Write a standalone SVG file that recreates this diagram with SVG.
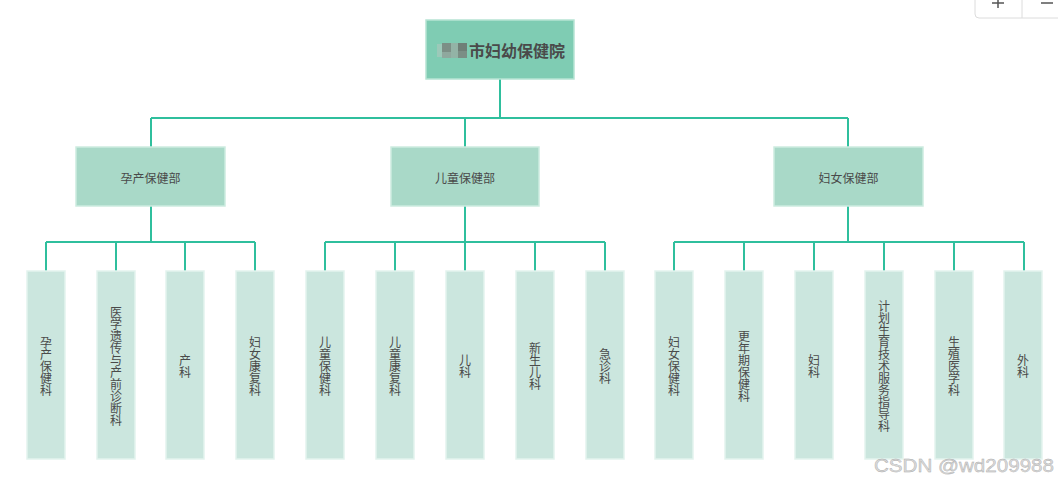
<svg xmlns="http://www.w3.org/2000/svg" width="1058" height="482" viewBox="0 0 1058 482">
<style>
.top{fill:#7fccb3;stroke:#b7e4d4;stroke-width:1.5}
.mid{fill:#a9d9c8;stroke:#cdebe0;stroke-width:1.5}
.leaf{fill:#cbe6de;stroke:#e3f3ee;stroke-width:1.5}
.t{font-family:"Noto Sans CJK SC","Liberation Sans",sans-serif;fill:#4a4a4a;text-anchor:middle}
.v{font-family:"Noto Sans CJK SC","Liberation Sans",sans-serif;fill:#4a4a4a;font-size:12px;writing-mode:vertical-rl;text-anchor:middle}
.c{fill:none;stroke:#2fbf9d;stroke-width:2}
</style>
<rect width="1058" height="482" fill="#ffffff"/>
<g id="zoom-controls">
<rect x="975" y="-6" width="100" height="24" rx="4" fill="#fff" stroke="#dcdcdc"/>
<line x1="1022" y1="-6" x2="1022" y2="18" stroke="#dcdcdc"/>
<line x1="992" y1="3" x2="1004" y2="3" stroke="#555" stroke-width="1.5"/>
<line x1="998" y1="-3" x2="998" y2="8" stroke="#555" stroke-width="1.5"/>
<line x1="1041" y1="3" x2="1053" y2="3" stroke="#555" stroke-width="1.5"/>
</g>
<g id="connectors">
<path class="c" d="M500 79V118M151 118H848M151 118V147M465 118V147M848 118V147"/>
<path class="c" d="M151 206V242M46 242H255M46 242V271M116 242V271M185 242V271M255 242V271"/>
<path class="c" d="M465 206V242M325 242H605M325 242V271M395 242V271M465 242V271M535 242V271M605 242V271"/>
<path class="c" d="M848 206V242M674 242H1024M674 242V271M744 242V271M814 242V271M884 242V271M954 242V271M1024 242V271"/>
</g>
<g id="root">
<rect class="top" x="426" y="20" width="148" height="59"/>
<rect x="437" y="44" width="5" height="13" fill="#9cc9b9"/>
<rect x="442" y="43" width="9" height="9" fill="#7c8f86"/>
<rect x="442" y="52" width="9" height="6" fill="#8fa89e"/>
<rect x="451" y="43" width="7" height="15" fill="#93b3a6"/>
<rect x="458" y="43" width="9" height="8" fill="#6f7f77"/>
<rect x="458" y="51" width="9" height="7" fill="#7b8e85"/>
<text class="t" x="517" y="57" font-size="16" font-weight="bold" fill="#555">市妇幼保健院</text>
</g>
<g id="dept1"><rect class="mid" x="76" y="147" width="149" height="59"/><text class="t" x="150.5" y="183" font-size="12">孕产保健部</text></g>
<g id="dept2"><rect class="mid" x="391" y="147" width="148" height="59"/><text class="t" x="465" y="183" font-size="12">儿童保健部</text></g>
<g id="dept3"><rect class="mid" x="774" y="147" width="149" height="59"/><text class="t" x="848.5" y="183" font-size="12">妇女保健部</text></g>
<g id="leaf1"><rect class="leaf" x="27" y="271" width="38" height="188"/><text class="v" x="46" y="366">孕产保健科</text></g>
<g id="leaf2"><rect class="leaf" x="97" y="271" width="38" height="188"/><text class="v" x="116" y="366">医学遗传与产前诊断科</text></g>
<g id="leaf3"><rect class="leaf" x="166" y="271" width="38" height="188"/><text class="v" x="185" y="366">产科</text></g>
<g id="leaf4"><rect class="leaf" x="236" y="271" width="38" height="188"/><text class="v" x="255" y="366">妇女康复科</text></g>
<g id="leaf5"><rect class="leaf" x="306" y="271" width="38" height="188"/><text class="v" x="325" y="366">儿童保健科</text></g>
<g id="leaf6"><rect class="leaf" x="376" y="271" width="38" height="188"/><text class="v" x="395" y="366">儿童康复科</text></g>
<g id="leaf7"><rect class="leaf" x="446" y="271" width="38" height="188"/><text class="v" x="465" y="366">儿科</text></g>
<g id="leaf8"><rect class="leaf" x="516" y="271" width="38" height="188"/><text class="v" x="535" y="366">新生儿科</text></g>
<g id="leaf9"><rect class="leaf" x="586" y="271" width="38" height="188"/><text class="v" x="605" y="366">急诊科</text></g>
<g id="leaf10"><rect class="leaf" x="655" y="271" width="38" height="188"/><text class="v" x="674" y="366">妇女保健科</text></g>
<g id="leaf11"><rect class="leaf" x="725" y="271" width="38" height="188"/><text class="v" x="744" y="366">更年期保健科</text></g>
<g id="leaf12"><rect class="leaf" x="795" y="271" width="38" height="188"/><text class="v" x="814" y="366">妇科</text></g>
<g id="leaf13"><rect class="leaf" x="865" y="271" width="38" height="188"/><text class="v" x="884" y="366">计划生育技术服务指导科</text></g>
<g id="leaf14"><rect class="leaf" x="935" y="271" width="38" height="188"/><text class="v" x="954" y="366">生殖医学科</text></g>
<g id="leaf15"><rect class="leaf" x="1004" y="271" width="38" height="188"/><text class="v" x="1023" y="366">外科</text></g>
<text x="874" y="472" font-family="Liberation Sans,sans-serif" font-size="19" textLength="180" lengthAdjust="spacingAndGlyphs" fill="#dcdcdc" stroke="#a8a8a8" stroke-width="0.4">CSDN @wd209988</text>
</svg>
